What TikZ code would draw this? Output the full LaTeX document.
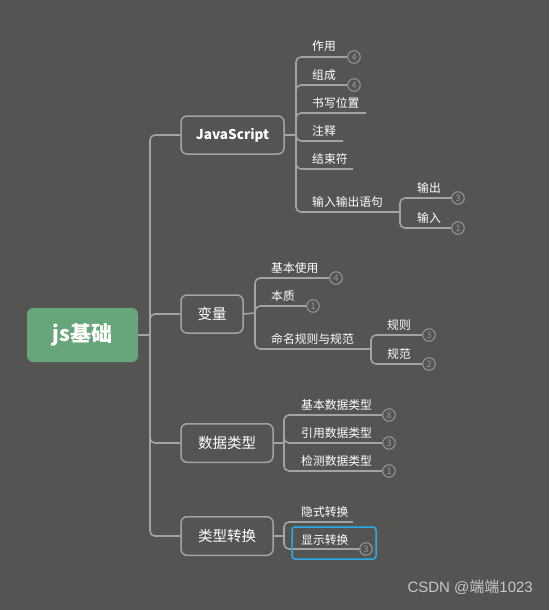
\documentclass[tikz,border=0pt]{standalone}
\usepackage{fontspec}
\setmainfont{Noto Sans CJK SC}
\newfontfamily\wmfont{Liberation Sans}
\definecolor{bgC}{HTML}{545552}
\definecolor{lineC}{HTML}{A3A3A1}
\definecolor{rootC}{HTML}{67A67A}
\definecolor{badgeC}{HTML}{999997}
\definecolor{selC}{HTML}{2EA8E8}
\definecolor{wmC}{HTML}{C8C8C6}
\tikzset{
  mline/.style={draw=lineC, line width=1.6pt, rounded corners=5pt},
  topic/.style={draw=lineC, line width=1.5pt, rounded corners=6pt, text=white, inner sep=0pt,
    font=\fontsize{14.5}{16}\selectfont},
  rootbox/.style={fill=rootC, rounded corners=6pt, text=white, inner sep=0pt,
    font=\fontsize{21}{24}\selectfont\bfseries},
  leaf/.style={anchor=base west, text=white, inner sep=0pt, font=\fontsize{11.8}{13}\selectfont},
  badge/.style={circle, draw=badgeC, line width=1pt, minimum size=12.5pt, inner sep=0pt,
    text=badgeC, font=\fontsize{9}{9}\selectfont},
}
\begin{document}
\begin{tikzpicture}[x=1pt,y=-1pt]
\fill[bgC] (0,0) rectangle (549,610);
\useasboundingbox (0,0) rectangle (549,610);

% root and topics
\node[rootbox, minimum width=111pt, minimum height=54pt] (root) at (82.5,335) {js基础};
\node[topic, minimum width=103pt, minimum height=38pt, font=\fontsize{13.5}{15}\selectfont\bfseries] (js) at (232.5,135) {JavaScript};
\node[topic, minimum width=62pt, minimum height=38pt] (var) at (212,314) {变量};
\node[topic, minimum width=92pt, minimum height=38.5pt] (dt) at (227,443) {数据类型};
\node[topic, minimum width=92pt, minimum height=38.5pt] (conv) at (227,536) {类型转换};

% trunk
\coordinate (trunk) at (150,335);
\draw[mline] (root.east) -- (trunk);
\draw[mline] (trunk) |- (js.west);
\draw[mline] (trunk) |- (var.west);
\draw[mline] (trunk) |- (dt.west);
\draw[mline] (trunk) |- (conv.west);

% ---- JavaScript children
\coordinate (jsb) at (296,135);
\draw[mline] (js.east) -- (jsb);
\node[leaf] (l1) at (312,51) {作用};
\node[badge] (b1) at (354,57) {4};
\node[leaf] (l2) at (312,79) {组成};
\node[badge] (b2) at (354,85) {4};
\node[leaf] (l3) at (312,107) {书写位置};
\coordinate (e3) at (366,113);
\node[leaf] (l4) at (312,135) {注释};
\coordinate (e4) at (343,141);
\node[leaf] (l5) at (312,163) {结束符};
\coordinate (e5) at (353,169);
\node[leaf] (l6) at (312,206) {输入输出语句};
\coordinate (e6) at (400,212);
\draw[mline] (jsb) |- (b1.west);
\draw[mline] (jsb) |- (b2.west);
\draw[mline] (jsb) |- (e3);
\draw[mline] (jsb) |- (e4);
\draw[mline] (jsb) |- (e5);
\draw[mline] (jsb) |- (e6);
\node[leaf] (l61) at (417,192) {输出};
\node[badge] (b61) at (458,198) {3};
\node[leaf] (l62) at (417,222) {输入};
\node[badge] (b62) at (458,228) {1};
\draw[mline] (e6) |- (b61.west);
\draw[mline] (e6) |- (b62.west);

% ---- 变量 children
\coordinate (varb) at (255,313);
\draw[mline] (var.east) -- (varb);
\node[leaf] (v1) at (271,272) {基本使用};
\node[badge] (vb1) at (336,278) {4};
\node[leaf] (v2) at (271,300) {本质};
\node[badge] (vb2) at (313,306) {1};
\node[leaf] (v3) at (271,343) {命名规则与规范};
\coordinate (ve3) at (371,349);
\draw[mline] (varb) |- (vb1.west);
\draw[mline] (varb) |- (vb2.west);
\draw[mline] (varb) |- (ve3);
\node[leaf] (v31) at (387,329) {规则};
\node[badge] (vb31) at (429,335) {3};
\node[leaf] (v32) at (387,358) {规范};
\node[badge] (vb32) at (429,364) {2};
\draw[mline] (ve3) |- (vb31.west);
\draw[mline] (ve3) |- (vb32.west);

% ---- 数据类型 children
\coordinate (dtb) at (284,443);
\draw[mline] (dt.east) -- (dtb);
\node[leaf] (d1) at (301,409) {基本数据类型};
\node[badge] (db1) at (389,415) {8};
\node[leaf] (d2) at (301,437) {引用数据类型};
\node[badge] (db2) at (389,443) {3};
\node[leaf] (d3) at (301,465) {检测数据类型};
\node[badge] (db3) at (389,471) {1};
\draw[mline] (dtb) |- (db1.west);
\draw[mline] (dtb) |- (db2.west);
\draw[mline] (dtb) |- (db3.west);

% ---- 类型转换 children
\coordinate (cvb) at (284,536);
\draw[mline] (conv.east) -- (cvb);
\node[leaf] (c1) at (301,516) {隐式转换};
\coordinate (ce1) at (353,522);
\node[leaf] (c2) at (301,544) {显示转换};
\node[badge] (cb2) at (366,549) {3};
\draw[mline] (cvb) |- (ce1);
\draw[mline] (cvb) |- (cb2.west);
\node[draw=selC, line width=1.5pt, rounded corners=3pt, minimum width=84pt, minimum height=32pt, inner sep=0pt] (sel) at (334,543) {};

% watermark
\node[anchor=base east, text=wmC, inner sep=0pt, font=\fontsize{15}{16}\selectfont] (wm) at (533,592) {\wmfont CSDN @\normalfont 端端\wmfont 1023};
\end{tikzpicture}
\end{document}
